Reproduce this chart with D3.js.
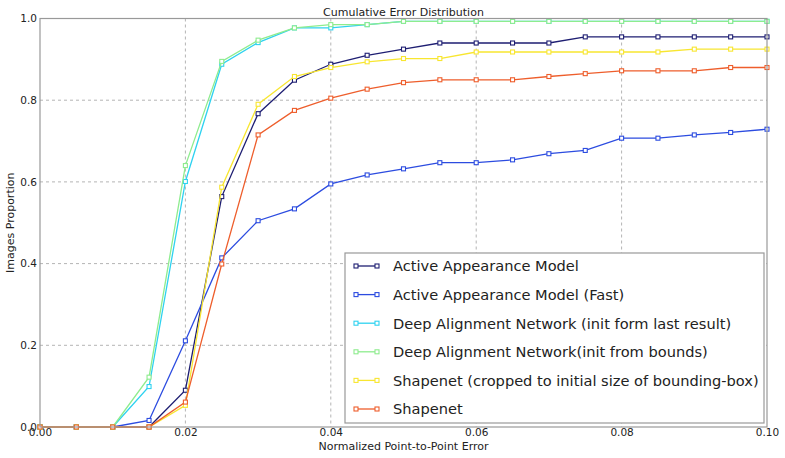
<!DOCTYPE html>
<html>
<head>
    <meta charset="utf-8">
    <title>Cumulative Error Distribution</title>
    <script src="https://d3js.org/d3.v7.min.js"></script>
    <style>
        body { margin: 0; background: white; }
        text { font-family: "DejaVu Sans", sans-serif; fill: #222; }
    </style>
</head>
<body>
    <svg width="785" height="458"></svg>
    <script>
        // error thresholds (x)
        const errors = [0, 0.005, 0.01, 0.015, 0.02, 0.025, 0.03, 0.035, 0.04, 0.045, 0.05,
            0.055, 0.06, 0.065, 0.07, 0.075, 0.08, 0.085, 0.09, 0.095, 0.1];

        const seriesNames = [
            "Active Appearance Model",
            "Active Appearance Model (Fast)",
            "Deep Alignment Network (init form last result)",
            "Deep Alignment Network(init from bounds)",
            "Shapenet (cropped to initial size of bounding-box)",
            "Shapenet"
        ];
        const seriesColors = ["#1e1e72", "#2c4ce0", "#2ed2f0", "#8eec8e", "#f8e630", "#ee5e2c"];

        const aam = [0, 0, 0, 0, 0.09, 0.564, 0.767, 0.849, 0.888, 0.910, 0.925,
            0.940, 0.940, 0.940, 0.940, 0.955, 0.955, 0.955, 0.955, 0.955, 0.955];
        const aamFast = [0, 0, 0, 0.016, 0.211, 0.414, 0.505, 0.534, 0.595, 0.617, 0.632,
            0.647, 0.647, 0.654, 0.669, 0.677, 0.707, 0.707, 0.715, 0.721, 0.729];
        const danLast = [0, 0, 0, 0.099, 0.601, 0.888, 0.941, 0.977, 0.977, 0.985, 0.993,
            0.993, 0.993, 0.993, 0.993, 0.993, 0.993, 0.993, 0.993, 0.993, 0.993];
        const danBounds = [0, 0, 0, 0.122, 0.640, 0.895, 0.947, 0.977, 0.985, 0.985, 0.993,
            0.993, 0.993, 0.993, 0.993, 0.993, 0.993, 0.993, 0.993, 0.993, 0.993];
        const shapenetCropped = [0, 0, 0, 0, 0.053, 0.587, 0.790, 0.858, 0.880, 0.894, 0.902,
            0.902, 0.918, 0.918, 0.918, 0.918, 0.918, 0.918, 0.925, 0.925, 0.925];
        const shapenet = [0, 0, 0, 0, 0.061, 0.399, 0.715, 0.775, 0.805, 0.827, 0.843,
            0.850, 0.850, 0.850, 0.858, 0.865, 0.872, 0.872, 0.872, 0.880, 0.880];

        const allSeries = [aam, aamFast, danLast, danBounds, shapenetCropped, shapenet];

        const xTicks = [0, 0.02, 0.04, 0.06, 0.08, 0.1];
        const yTicks = [0, 0.2, 0.4, 0.6, 0.8, 1.0];

        const svg = d3.select("svg");
        const pLeft = 40, pRight = 767, pTop = 18.5, pBottom = 427;

        const x = d3.scaleLinear().domain([0, 0.1]).range([pLeft, pRight]);
        const y = d3.scaleLinear().domain([0, 1]).range([pBottom, pTop]);

        // grid
        const grid = svg.append("g");
        grid.selectAll(".gx").data(xTicks.slice(1, -1)).enter().append("line")
            .attr("x1", d => x(d)).attr("x2", d => x(d))
            .attr("y1", pTop).attr("y2", pBottom)
            .attr("stroke", "#b4b4b4").attr("stroke-dasharray", "3,3");
        grid.selectAll(".gy").data(yTicks.slice(1, -1)).enter().append("line")
            .attr("x1", pLeft).attr("x2", pRight)
            .attr("y1", d => y(d)).attr("y2", d => y(d))
            .attr("stroke", "#b4b4b4").attr("stroke-dasharray", "3,3");

        // axes (no tick marks, just labels)
        const xAxis = svg.append("g")
            .attr("transform", `translate(0,${pBottom})`)
            .call(d3.axisBottom(x).tickValues(xTicks).tickFormat(d3.format(".2f")).tickSize(0).tickPadding(2));
        const yAxis = svg.append("g")
            .attr("transform", `translate(${pLeft},0)`)
            .call(d3.axisLeft(y).tickValues(yTicks).tickFormat(d3.format(".1f")).tickSize(0).tickPadding(3));
        [xAxis, yAxis].forEach(a => {
            a.select(".domain").remove();
            a.selectAll("text").attr("font-size", 10.5).style("font-family", "DejaVu Sans").attr("fill", "#222");
        });

        // lines and markers
        const line = d3.line().x((d, i) => x(errors[i])).y(d => y(d));
        allSeries.forEach((s, k) => {
            svg.append("path")
                .attr("d", line(s))
                .attr("fill", "none")
                .attr("stroke", seriesColors[k])
                .attr("stroke-width", 1.3);
            svg.append("g").selectAll("rect").data(s).enter().append("rect")
                .attr("x", (d, i) => x(errors[i]) - 2)
                .attr("y", d => y(d) - 2)
                .attr("width", 4).attr("height", 4)
                .attr("fill", "white")
                .attr("stroke", seriesColors[k])
                .attr("stroke-width", 1.1);
        });

        // frame
        svg.append("rect")
            .attr("x", pLeft).attr("y", pTop)
            .attr("width", pRight - pLeft).attr("height", pBottom - pTop)
            .attr("fill", "none").attr("stroke", "#999").attr("stroke-width", 1.2);

        // title and labels
        svg.append("text").attr("x", (pLeft + pRight) / 2).attr("y", 16)
            .attr("text-anchor", "middle").attr("font-size", 11)
            .text("Cumulative Error Distribution");
        svg.append("text").attr("x", (pLeft + pRight) / 2).attr("y", 450)
            .attr("text-anchor", "middle").attr("font-size", 11)
            .text("Normalized Point-to-Point Error");
        svg.append("text")
            .attr("transform", `translate(14,${(pTop + pBottom) / 2}) rotate(-90)`)
            .attr("text-anchor", "middle").attr("font-size", 11)
            .text("Images Proportion");

        // legend
        const lg = svg.append("g");
        lg.append("rect")
            .attr("x", 345).attr("y", 253).attr("width", 419).attr("height", 170)
            .attr("fill", "white").attr("stroke", "#999").attr("stroke-width", 1.2);
        seriesNames.forEach((name, k) => {
            const ly = 266 + k * 28.6;
            lg.append("line").attr("x1", 356).attr("x2", 377).attr("y1", ly).attr("y2", ly)
                .attr("stroke", seriesColors[k]).attr("stroke-width", 1.3);
            [356, 377].forEach(mx => lg.append("rect")
                .attr("x", mx - 2).attr("y", ly - 2).attr("width", 4).attr("height", 4)
                .attr("fill", "white").attr("stroke", seriesColors[k]).attr("stroke-width", 1.1));
            lg.append("text").attr("x", 393).attr("y", ly + 5.3)
                .attr("font-size", 14.6).text(name);
        });
    </script>
</body>
</html>
